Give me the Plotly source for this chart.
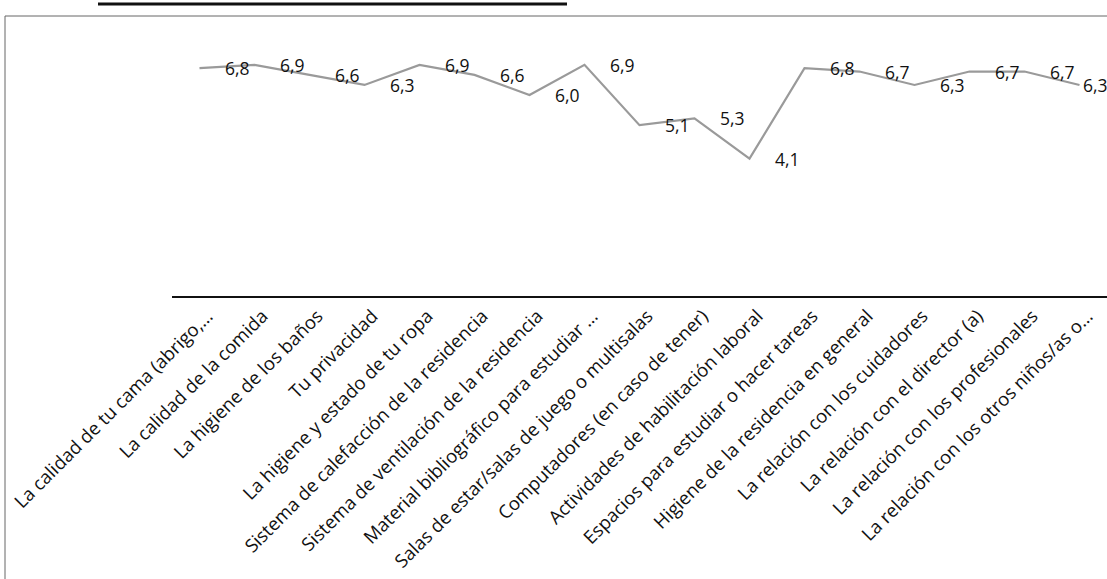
import plotly.graph_objects as go

# Aspectos evaluados de la residencia y su nota promedio
categorias = [
    "La calidad de tu cama (abrigo,…",
    "La calidad de la comida",
    "La higiene de los baños",
    "Tu privacidad",
    "La higiene y estado de tu ropa",
    "Sistema de calefacción de la residencia",
    "Sistema de ventilación de la residencia",
    "Material bibliográfico para estudiar …",
    "Salas de estar/salas de juego o multisalas",
    "Computadores (en caso de tener)",
    "Actividades de habilitación laboral",
    "Espacios para estudiar o hacer tareas",
    "Higiene de la residencia en general",
    "La relación con los cuidadores",
    "La relación con el director (a)",
    "La relación con los profesionales",
    "La relación con los otros niños/as o…",
]
notas = [6.8, 6.9, 6.6, 6.3, 6.9, 6.6, 6.0, 6.9, 5.1, 5.3, 4.1, 6.8, 6.7, 6.3, 6.7, 6.7, 6.3]

W, H = 1107, 579
ML, MR, MT, MB = 172, 0, 28, 283
PW, PH = W - ML - MR, H - MT - MB


def px_x(px):
    return (px - ML) / PW


def px_y(py):
    return (H - MB - py) / PH


fig = go.Figure()
fig.add_trace(go.Scatter(
    x=categorias, y=notas, mode="lines",
    line=dict(color="#9a9a9a", width=2.2),
    hoverinfo="skip", showlegend=False,
))

n = len(categorias)
for i, (c, v) in enumerate(zip(categorias, notas)):
    # la última etiqueta se recorre hacia la izquierda para quedar dentro del área
    shift = 1 if i == n - 1 else 23
    fig.add_annotation(
        x=c, y=v, text=f"{v:.1f}".replace(".", ","),
        showarrow=False, xanchor="left", yanchor="middle", xshift=shift,
        font=dict(family="Open Sans", size=17.5, color="#111111"),
    )

# marco exterior y subrayado del título
fig.add_shape(type="line", xref="paper", yref="paper",
              x0=px_x(5), x1=px_x(W), y0=px_y(16), y1=px_y(16),
              line=dict(color="#666666", width=1))
fig.add_shape(type="line", xref="paper", yref="paper",
              x0=px_x(5), x1=px_x(5), y0=px_y(16), y1=px_y(H),
              line=dict(color="#666666", width=1))
fig.add_shape(type="line", xref="paper", yref="paper",
              x0=px_x(98), x1=px_x(567), y0=px_y(4), y1=px_y(4),
              line=dict(color="#111111", width=3))

fig.update_layout(
    width=W, height=H, autosize=False,
    margin=dict(l=ML, r=MR, t=MT, b=MB),
    paper_bgcolor="white", plot_bgcolor="white",
    font=dict(family="Open Sans", color="#111111"),
    xaxis=dict(
        type="category", range=[-0.5, n - 0.5],
        showline=True, linecolor="#111111", linewidth=2,
        showgrid=False, zeroline=False, ticks="",
        tickangle=-45, ticklabelshift=8,
        tickfont=dict(family="Open Sans", size=18.5, color="#111111"),
        automargin=False,
    ),
    yaxis=dict(range=[0, 8], visible=False, showgrid=False, zeroline=False),
)

fig.write_html("out.html")
